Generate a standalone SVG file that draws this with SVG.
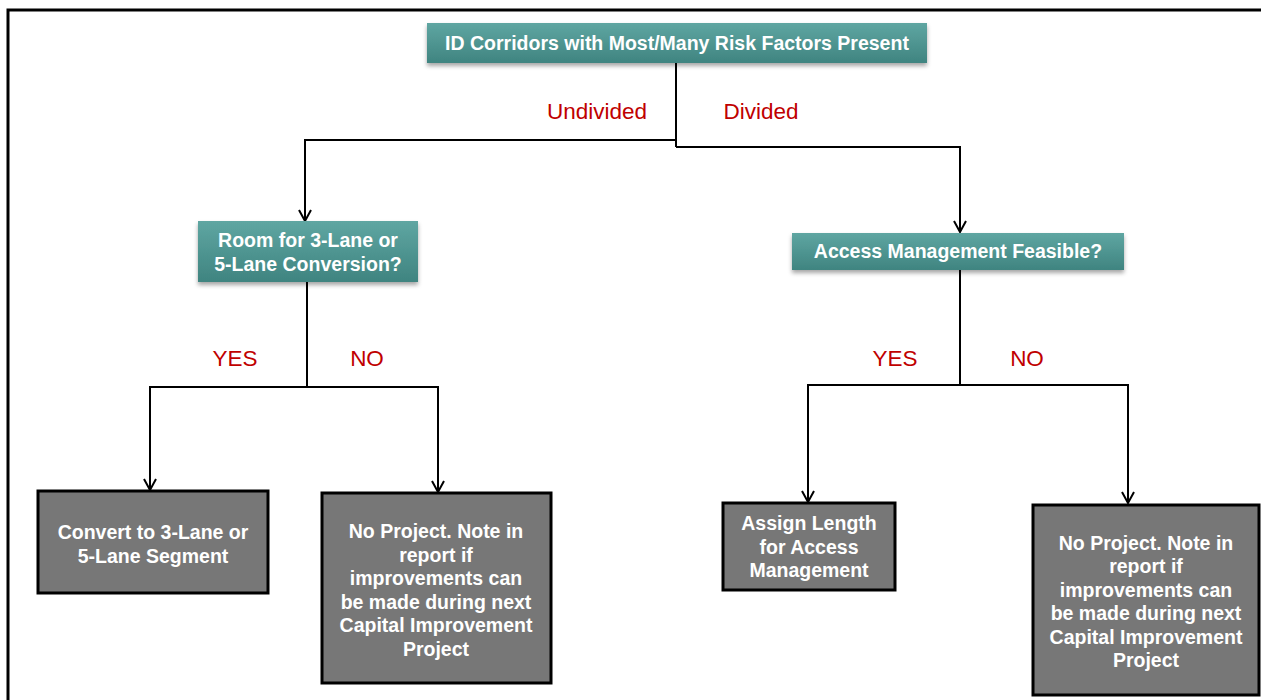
<svg xmlns="http://www.w3.org/2000/svg" width="1261" height="700" viewBox="0 0 1261 700">
<defs>
<linearGradient id="teal" x1="0" y1="0" x2="0" y2="1">
<stop offset="0" stop-color="#5fa6a2"/>
<stop offset="1" stop-color="#3f8480"/>
</linearGradient>
<filter id="sh" x="-5%" y="-20%" width="110%" height="150%">
<feDropShadow dx="0" dy="3" stdDeviation="2" flood-color="#000" flood-opacity="0.35"/>
</filter>
<marker id="arrd" viewBox="0 0 14 14" refX="12" refY="7" markerWidth="14" markerHeight="14" markerUnits="userSpaceOnUse" orient="auto">
<path d="M1,1 L12,7 L1,13" fill="none" stroke="#000" stroke-width="2"/>
</marker>
</defs>
<style>
.teal{fill:url(#teal);filter:url(#sh);}
.gray{fill:#777777;stroke:#000;stroke-width:3;}
.t{font-family:"Liberation Sans",Arial,sans-serif;font-weight:bold;font-size:19.5px;fill:#fff;text-anchor:middle;}
.lbl{font-family:"Liberation Sans",Arial,sans-serif;font-size:22.5px;fill:#c00000;text-anchor:middle;}
.c{fill:none;stroke:#000;stroke-width:2;}
</style>
<rect width="1261" height="700" fill="#fff"/>
<path d="M8,700 V10 H1261" fill="none" stroke="#000" stroke-width="3"/>
<g id="connectors">
<path class="c" d="M676,63 V147"/>
<path class="c" d="M676,140 H305 V221" marker-end="url(#arrd)"/>
<path class="c" d="M676,147 H960 V232" marker-end="url(#arrd)"/>
<path class="c" d="M307,282 V387"/>
<path class="c" d="M307,387 H150 V490" marker-end="url(#arrd)"/>
<path class="c" d="M307,387 H438 V492" marker-end="url(#arrd)"/>
<path class="c" d="M960,270 V385"/>
<path class="c" d="M960,385 H808 V502" marker-end="url(#arrd)"/>
<path class="c" d="M960,385 H1128 V503" marker-end="url(#arrd)"/>
</g>
<g id="labels">
<text class="lbl" x="597" y="119">Undivided</text>
<text class="lbl" x="761" y="119">Divided</text>
<text class="lbl" x="235" y="366">YES</text>
<text class="lbl" x="367" y="366">NO</text>
<text class="lbl" x="895" y="366">YES</text>
<text class="lbl" x="1027" y="366">NO</text>
</g>
<g id="n1">
<rect class="teal" x="427" y="23" width="500" height="40"/>
<text class="t" x="677" y="50">ID Corridors with Most/Many Risk Factors Present</text>
</g>
<g id="n2">
<rect class="teal" x="198" y="221" width="220" height="61"/>
<text class="t" x="308" y="247">Room for 3-Lane or</text>
<text class="t" x="308" y="271">5-Lane Conversion?</text>
</g>
<g id="n3">
<rect class="teal" x="792" y="233" width="332" height="37"/>
<text class="t" x="958" y="258">Access Management Feasible?</text>
</g>
<g id="n4">
<rect class="gray" x="38" y="491" width="230" height="102"/>
<text class="t" x="153" y="539">Convert to 3-Lane or</text>
<text class="t" x="153" y="563">5-Lane Segment</text>
</g>
<g id="n5">
<rect class="gray" x="322" y="493" width="229" height="190"/>
<text class="t" x="436" y="538">No Project. Note in</text>
<text class="t" x="436" y="562">report if</text>
<text class="t" x="436" y="585">improvements can</text>
<text class="t" x="436" y="609">be made during next</text>
<text class="t" x="436" y="632">Capital Improvement</text>
<text class="t" x="436" y="656">Project</text>
</g>
<g id="n6">
<rect class="gray" x="723" y="503" width="172" height="87"/>
<text class="t" x="809" y="530">Assign Length</text>
<text class="t" x="809" y="554">for Access</text>
<text class="t" x="809" y="577">Management</text>
</g>
<g id="n7">
<rect class="gray" x="1033" y="505" width="226" height="190"/>
<text class="t" x="1146" y="550">No Project. Note in</text>
<text class="t" x="1146" y="573">report if</text>
<text class="t" x="1146" y="597">improvements can</text>
<text class="t" x="1146" y="620">be made during next</text>
<text class="t" x="1146" y="644">Capital Improvement</text>
<text class="t" x="1146" y="667">Project</text>
</g>
</svg>
